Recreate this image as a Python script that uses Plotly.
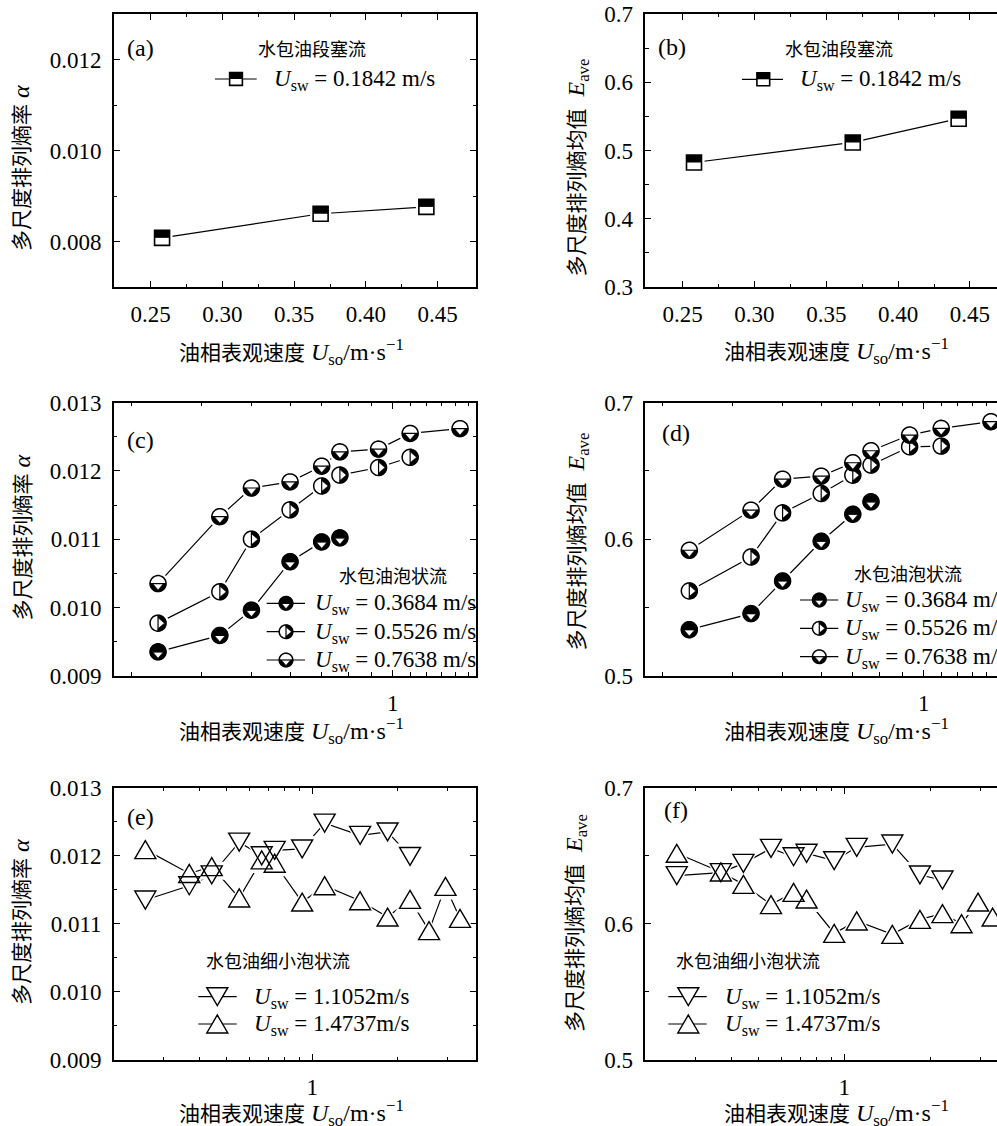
import numpy as np
import plotly.graph_objects as go

W, H = 997, 1126
LATIN = "Liberation Serif"
FONT = "Liberation Serif, Noto Sans CJK SC"
CJK = "Noto Sans CJK SC"

# ---------------- data ----------------
# (a)/(b): water-in-oil slug flow, Usw = 0.1842 m/s
uso_slug = [0.2579, 0.3684, 0.4421]
alpha_slug = [0.00808, 0.00861, 0.00876]
eave_slug = [0.4824, 0.5118, 0.5466]

# (c)/(d): water-in-oil bubble flow
uso_bubble = [0.2579, 0.3684, 0.4421, 0.5526, 0.6632, 0.7368, 0.9210, 1.1052, 1.4737]
alpha_b1 = [0.00935, 0.00959, 0.00996, 0.01067, 0.01096, 0.01102]                     # Usw = 0.3684
alpha_b2 = [0.00977, 0.01023, 0.01100, 0.01143, 0.01178, 0.01194, 0.01205, 0.01220]   # Usw = 0.5526
alpha_b3 = [0.01035, 0.01133, 0.01175, 0.01184, 0.01207, 0.01228, 0.01232, 0.01255, 0.01262]  # Usw = 0.7638
eave_b1 = [0.5337, 0.5455, 0.5694, 0.5985, 0.6183, 0.6274]
eave_b2 = [0.5621, 0.5870, 0.6193, 0.6335, 0.6469, 0.6543, 0.6677, 0.6682]
eave_b3 = [0.5919, 0.6213, 0.6440, 0.6462, 0.6560, 0.6648, 0.6763, 0.6812, 0.6861]

# (e)/(f): water-in-oil fine bubble flow
uso_fine = [0.2579, 0.3684, 0.4421, 0.5526, 0.6632, 0.7368, 0.9210, 1.1052,
            1.4737, 1.8421, 2.2105, 2.5789, 2.9474, 3.3158]
alpha_f1 = [0.01135, 0.01156, 0.01172, 0.01220, 0.01200, 0.01208, 0.01210, 0.01248,
            0.01230, 0.01235, 0.01199]                                                   # Usw = 1.1052
alpha_f2 = [0.01209, 0.01174, 0.01184, 0.01138, 0.01194, 0.01189, 0.01132, 0.01156,
            0.01134, 0.01110, 0.01136, 0.01090, 0.01155, 0.01108]                        # Usw = 1.4737
eave_f1 = [0.6354, 0.6376, 0.6444, 0.6554, 0.6493, 0.6518, 0.6464, 0.6562,
           0.6586, 0.6359, 0.6322]
eave_f2 = [0.6518, 0.6381, 0.6290, 0.6141, 0.6231, 0.6182, 0.5930, 0.6021,
           0.5923, 0.6033, 0.6075, 0.6001, 0.6160, 0.6050]

# legend labels
lab_slug = ["<i>U</i><sub>sw</sub> = 0.1842 m/s"]
lab_bubble = ["<i>U</i><sub>sw</sub> = 0.3684 m/s", "<i>U</i><sub>sw</sub> = 0.5526 m/s",
              "<i>U</i><sub>sw</sub> = 0.7638 m/s"]
lab_fine = ["<i>U</i><sub>sw</sub> = 1.1052m/s", "<i>U</i><sub>sw</sub> = 1.4737m/s"]

# tick values
lin_xticks = [0.25, 0.30, 0.35, 0.40, 0.45]
lin_xminor = [0.275, 0.325, 0.375, 0.425]
bubble_minor = [0.2210, 0.3316, 0.4421, 0.5526, 0.6632, 0.7737, 0.8842,
                1.1052, 1.2157, 1.3263, 1.4368, 1.5473]
fine_minor = [0.3, 0.4, 0.5, 0.6, 0.7, 0.8, 0.9, 2, 3]


def PX(x):
    return x / W


def PY(y):
    return 1 - y / H


# ---------------- marker glyphs (pixel paths) ----------------
def arc(r, a0, a1, n=28):
    t = np.radians(np.linspace(a0, a1, n))
    return [(r * np.cos(v), r * np.sin(v)) for v in t]


def path_of(pts, close=True):
    s = "M " + " L ".join(f"{x:.2f},{y:.2f}" for x, y in pts)
    return s + (" Z" if close else "")


CLEAR = "rgba(0,0,0,0)"


def glyph(kind, s=1.0):
    if kind == "sq":
        h = 7.5 * s
        g = h + 3
        halo = path_of([(-g, -g), (g, -g), (g, g), (-g, g)])
        parts = [(path_of([(-h, -h), (h, -h), (h, h), (-h, h)]), "white", 1.6),
                 (path_of([(-h, 0), (h, 0), (h, h), (-h, h)]), "black", 0)]
        return halo, parts
    if kind in ("c_top", "c_right", "c_bot"):
        r = 8 * s
        a, b = 0.68 * r, 0.8 * r
        halo = path_of(arc(r + 3, 0, 360, 40))
        parts = [(path_of(arc(r, 0, 360, 40)), "white", 1.5)]
        if kind == "c_right":
            region = arc(r, -90, 90) + [(0, a), (b, 0), (0, -a)]
            parts.append((path_of(region), "black", 0.6))
            parts.append((path_of([(0, -r), (0, r)], close=False), CLEAR, 1.2))
        else:
            if kind == "c_top":
                parts.append((path_of(arc(r, 0, 180)), "black", 0.6))
            region = arc(r, 180, 360) + [(a, 0), (0, -b), (-a, 0)]
            parts.append((path_of(region), "black", 0.6))
            parts.append((path_of([(-r, 0), (r, 0)], close=False), CLEAR, 1.2))
        return halo, parts
    # triangles
    tw, th = 10.5 * s, 9 * s
    sign = 1 if kind == "t_down" else -1
    pts = [(-tw, sign * th), (tw, sign * th), (0, -sign * th)]
    k = 1.45
    halo = path_of([(x * k, y * k) for x, y in pts])
    parts = [(path_of(pts), CLEAR, 1.4)]
    return halo, parts


def pshape(xref, yref, x, y, path, fill, lw):
    return dict(type="path", xref=xref, yref=yref, xsizemode="pixel", ysizemode="pixel",
                xanchor=x, yanchor=y, path=path, fillcolor=fill,
                line=dict(color="black", width=lw), layer="above")


shapes = []
annotations = []
traces = []


def add_series(n, series):
    xr, yr = ("x" if n == 1 else f"x{n}"), ("y" if n == 1 else f"y{n}")
    for xs, ys, kind in series:
        traces.append(go.Scatter(x=xs[:len(ys)], y=ys, mode="lines", xaxis=xr, yaxis=yr,
                                 line=dict(color="black", width=1.2),
                                 showlegend=False, hoverinfo="skip"))
    for xs, ys, kind in series:
        halo, _ = glyph(kind)
        for x, y in zip(xs, ys):
            shapes.append(pshape(xr, yr, x, y, halo, "white", 0))
    for xs, ys, kind in series:
        _, parts = glyph(kind)
        for x, y in zip(xs, ys):
            for p, fill, lw in parts:
                shapes.append(pshape(xr, yr, x, y, p, fill, lw))


def ann(x, y, text, size=23, xanchor="center", angle=0, family=FONT):
    annotations.append(dict(xref="paper", yref="paper", x=PX(x), y=PY(y), text=text,
                            showarrow=False, xanchor=xanchor, yanchor="middle",
                            textangle=angle, font=dict(family=family, size=size, color="black")))


def legend_rows(x0, x1, xm, xt, ys, kinds, labels, s=0.85):
    for y, kind, lab in zip(ys, kinds, labels):
        shapes.append(dict(type="line", xref="paper", yref="paper", x0=PX(x0), x1=PX(x1),
                           y0=PY(y), y1=PY(y), line=dict(color="black", width=1.2), layer="above"))
        halo, parts = glyph(kind, s)
        for p, fill, lw in parts:
            fill = "white" if fill == CLEAR else fill
            shapes.append(pshape("paper", "paper", PX(xm), PY(y), p, fill, lw))
        ann(xt, y + 1, lab, size=23, xanchor="left")


# ---------------- panels ----------------
add_series(1, [(uso_slug, alpha_slug, "sq")])
add_series(2, [(uso_slug, eave_slug, "sq")])
add_series(3, [(uso_bubble, alpha_b1, "c_top"), (uso_bubble, alpha_b2, "c_right"),
               (uso_bubble, alpha_b3, "c_bot")])
add_series(4, [(uso_bubble, eave_b1, "c_top"), (uso_bubble, eave_b2, "c_right"),
               (uso_bubble, eave_b3, "c_bot")])
add_series(5, [(uso_fine, alpha_f1, "t_down"), (uso_fine, alpha_f2, "t_up")])
add_series(6, [(uso_fine, eave_f1, "t_down"), (uso_fine, eave_f2, "t_up")])

# legends
legend_rows(215, 256.7, 236, 271.7, [79], ["sq"], lab_slug)
legend_rows(742, 783, 763.3, 798, [79.3], ["sq"], lab_slug)
legend_rows(266.7, 305, 286, 313.3, [603.3, 631.7, 660], ["c_top", "c_right", "c_bot"], lab_bubble)
legend_rows(800, 838.3, 819.3, 843.3, [600, 628.3, 656.7], ["c_top", "c_right", "c_bot"], lab_bubble)
legend_rows(198.3, 236.7, 217.3, 251.7, [996.7, 1024], ["t_down", "t_up"], lab_fine, s=1.0)
legend_rows(668.3, 706.7, 688.3, 723.3, [996.7, 1024], ["t_down", "t_up"], lab_fine, s=1.0)

# panel letters
for (x, y, t) in [(125, 48.3, "(a)"), (656, 46.7, "(b)"), (125, 440, "(c)"),
                  (660, 433, "(d)"), (125, 816.7, "(e)"), (661.7, 810, "(f)")]:
    ann(x, y, t, size=24, xanchor="left", family=LATIN)

# regime titles
for (x, y, t) in [(311.7, 48.3, "水包油段塞流"), (839, 48, "水包油段塞流"),
                  (392.5, 575, "水包油泡状流"), (908, 572.7, "水包油泡状流"),
                  (277.5, 960, "水包油细小泡状流"), (748, 960, "水包油细小泡状流")]:
    ann(x, y, t, size=18, family=CJK)

# axis titles
XT = '<span style="font-size:21px">油相表观速度</span> <i>U</i><sub>so</sub>/m·s<sup>−1</sup>'
YT_A = '<span style="font-size:21px">多尺度排列熵率</span> <i>α</i>'
YT_E = '<span style="font-size:21px">多尺度排列熵均值</span>  <i>E</i><sub>ave</sub>'
for (x, y) in [(291.5, 352), (836.7, 351), (291.5, 731), (836.5, 731),
               (291.5, 1113), (836.5, 1113)]:
    ann(x, y, XT, size=24)
for (x, y, t) in [(21, 168, YT_A), (577, 167.5, YT_E), (21, 537.5, YT_A),
                  (577, 541.5, YT_E), (21, 922, YT_A), (576, 923, YT_E)]:
    ann(x, y, t, size=24, angle=-90)

# ---------------- axes ----------------
cols = [(114, 476), (645.3, 997)]
rows = [(14, 287), (402.7, 675.7), (787.7, 1060)]

panels = [
    dict(col=0, row=0, xtype="linear", xr=[0.2244, 0.4767], xt=lin_xticks, xtt=None, xm=lin_xminor,
         yr=[0.007, 0.013], yt=[0.008, 0.010, 0.012], ym=[0.007, 0.009, 0.011, 0.013], yf=".3f"),
    dict(col=1, row=0, xtype="linear", xr=[0.224, 0.4688], xt=lin_xticks, xtt=None, xm=lin_xminor,
         yr=[0.3, 0.7], yt=[0.3, 0.4, 0.5, 0.6, 0.7], ym=[0.35, 0.45, 0.55, 0.65], yf=".1f"),
    dict(col=0, row=1, xtype="log", xr=[np.log10(0.2), 0.2085], xt=[1], xtt=["1"], xm=bubble_minor,
         yr=[0.009, 0.013], yt=[0.009, 0.010, 0.011, 0.012, 0.013],
         ym=[0.0095, 0.0105, 0.0115, 0.0125], yf=".3f"),
    dict(col=1, row=1, xtype="log", xr=[np.log10(0.2), 0.1835], xt=[1], xtt=["1"], xm=bubble_minor,
         yr=[0.5, 0.7], yt=[0.5, 0.6, 0.7], ym=[0.55, 0.65], yf=".1f"),
    dict(col=0, row=2, xtype="log", xr=[np.log10(0.2), 0.577], xt=[1], xtt=["1"], xm=fine_minor,
         yr=[0.009, 0.013], yt=[0.009, 0.010, 0.011, 0.012, 0.013],
         ym=[0.0095, 0.0105, 0.0115, 0.0125], yf=".3f"),
    dict(col=1, row=2, xtype="log", xr=[np.log10(0.2), 0.536], xt=[1], xtt=["1"], xm=fine_minor,
         yr=[0.5, 0.7], yt=[0.5, 0.6, 0.7], ym=[0.55, 0.65], yf=".1f"),
]

base = dict(showline=True, linecolor="black", linewidth=1.6, ticks="inside", ticklen=6,
            tickwidth=1.3, tickcolor="black", showgrid=False, zeroline=False,
            tickfont=dict(family=LATIN, size=23, color="black"), ticklabelstandoff=6)

layout = dict(width=W, height=H, margin=dict(l=0, r=0, t=0, b=0), template="none",
              paper_bgcolor="white", plot_bgcolor="white", showlegend=False,
              shapes=shapes, annotations=annotations, hovermode=False)

for i, p in enumerate(panels, start=1):
    c0, c1 = cols[p["col"]]
    r0, r1 = rows[p["row"]]
    sx = "" if i == 1 else str(i)
    xa = dict(base, domain=[PX(c0), min(PX(c1), 1.0)], anchor=f"y{sx}", type=p["xtype"],
              range=p["xr"], mirror="ticks", tickmode="array", tickvals=p["xt"],
              minor=dict(tickmode="array", tickvals=p["xm"], ticks="inside", ticklen=3.5,
                         tickwidth=1.1, tickcolor="black"))
    if p["xtt"] is not None:
        xa["ticktext"] = p["xtt"]
    else:
        xa["tickformat"] = ".2f"
    ya = dict(base, domain=[PY(r1), PY(r0)], anchor=f"x{sx}", range=p["yr"],
              mirror="ticks" if p["col"] == 0 else False, tickmode="array", tickvals=p["yt"],
              tickformat=p["yf"],
              minor=dict(tickmode="array", tickvals=p["ym"], ticks="inside", ticklen=3.5,
                         tickwidth=1.1, tickcolor="black"))
    layout[f"xaxis{sx}"] = xa
    layout[f"yaxis{sx}"] = ya

fig = go.Figure(data=traces, layout=layout)
fig.write_html("out.html")
